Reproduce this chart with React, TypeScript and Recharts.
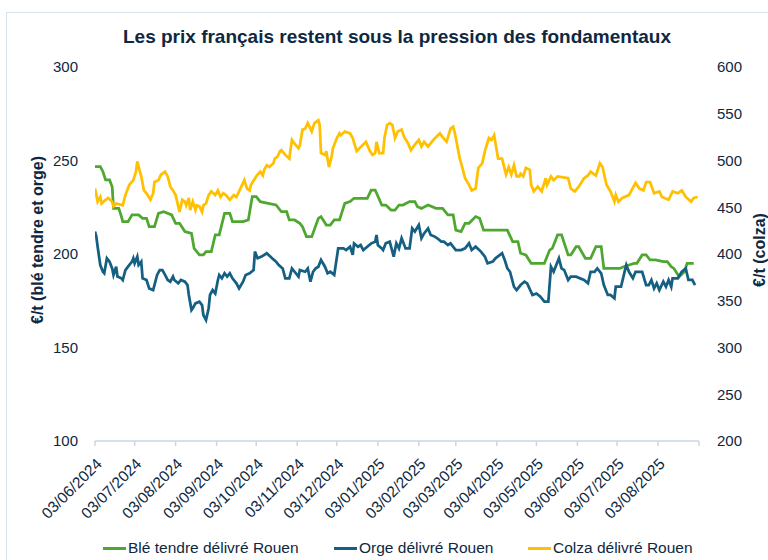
import React from 'react';
import { LineChart, Line, XAxis, YAxis } from 'recharts';

// Day offsets from 03/06/2024 of the monthly ticks
const tickDays = [0, 30, 61, 92, 122, 153, 183, 214, 245, 273, 304, 334, 365, 395, 426, 457];
const tickLabels = [
  '03/06/2024', '03/07/2024', '03/08/2024', '03/09/2024', '03/10/2024', '03/11/2024',
  '03/12/2024', '03/01/2025', '03/02/2025', '03/03/2025', '03/04/2025', '03/05/2025',
  '03/06/2025', '03/07/2025', '03/08/2025', '',
];
const leftTicks = [100, 150, 200, 250, 300];
const rightTicks = [200, 250, 300, 350, 400, 450, 500, 550, 600];

const bleDays = [0,4,6,8,11,13,14,18,20,21,25,28,33,36,39,41,45,48,52,58,61,64,68,73,75,77,79,82,84,88,91,94,98,102,104,112,116,119,122,125,131,137,141,145,147,151,155,157,160,164,169,171,175,178,181,185,189,193,196,206,209,212,217,220,224,227,230,233,238,242,244,247,252,258,263,267,271,273,277,280,283,288,291,294,312,316,320,322,326,330,340,344,346,350,353,358,360,364,366,371,375,379,383,385,397,400,404,408,410,414,417,420,424,430,433,436,438,442,446,448,453];
const bleValues = [246.7,246.7,244,239.6,239.6,236,224.4,224.4,220,217.3,217.3,220.9,220.9,219.1,219.1,214.6,214.6,221.7,222.6,220.9,216.4,216.4,212,211,203,201.3,199.5,199.5,201.3,201.3,210.2,210.2,221.7,221.7,217.3,217.3,218.2,230.7,230.7,228,227.1,226.2,222.6,222.6,218.2,218.2,216.4,214.6,209.3,209.3,219.1,220,215.5,215.5,218.2,218.2,227.1,228,229.8,229.8,234.2,234.2,226.2,226.2,223.5,223.5,226.2,226.2,228,228,225.3,224.4,226.2,224.4,224.4,220.9,220.9,212.8,212,216.4,216.4,220,219.1,212.8,212.8,206.6,206.6,200.4,199.5,195,195,202.1,203,210.2,210.2,199.5,199.5,203.9,203.9,197.7,197.7,203.9,203.9,192.3,192.3,193.2,194.1,195,195,199.5,199.5,196.8,196.8,195.9,195.9,193.2,192.3,187.9,190.5,195,195];

const orgeDays = [0,1,2,4,6,7,9,11,13,14,16,17,20,21,23,25,28,29,30,32,33,35,36,39,41,44,47,49,51,53,55,57,59,60,63,65,68,70,71,73,74,76,79,81,82,84,86,87,89,91,93,94,96,98,100,102,104,107,109,112,114,117,120,121,123,126,130,134,137,139,142,144,147,149,151,154,155,159,161,163,165,167,169,171,174,176,178,181,184,188,190,193,195,196,199,201,203,206,209,212,213,214,217,218,220,223,226,228,230,232,235,238,240,242,245,247,249,252,254,257,259,262,264,267,269,273,277,280,283,285,288,292,295,297,301,303,308,310,312,314,317,319,322,325,327,331,334,337,340,343,345,347,351,353,355,358,360,364,370,373,375,378,380,383,385,388,390,393,394,398,401,402,404,407,409,414,417,419,421,423,425,427,430,432,434,436,437,441,444,447,449,452,454];
const orgeValues = [212,209.3,203.9,194.1,190.5,189.7,197.7,195.9,192.3,188.8,193.2,187.9,187,186.1,191.4,193.2,195.9,197.7,195,198.6,194.1,195.9,187,186.1,181.6,180.7,188.8,191.4,191.4,188.8,186.1,185.2,187.9,186.1,184.3,186.1,185.2,183.4,178.1,170,171,173.6,174.5,172.7,167.4,164.7,171,178.1,180.7,178.9,186.1,188.8,187,189.7,187.9,189.7,187,184.3,181.6,185.2,188.8,189.7,191.4,201.3,197.7,198.6,200.4,197.7,195.9,194.1,192.3,187,187,192.3,190.5,187.9,191.4,190.5,192.3,185.2,190.5,192.3,193.2,196.8,193.2,189.7,190.5,188.8,203,203,202.1,203.9,199.5,205.7,203.9,204.8,202.1,203.9,205.7,206.6,210.2,204.8,203,202.1,205.7,206.6,198.6,205.7,203,208.4,203,203,213.7,212,215.5,208.4,211,213.7,210.2,209.3,208.4,206.6,206.6,204.8,205.7,202.1,202.1,203,205.7,202.1,203.9,201.3,198.6,195,195.9,197.7,200.4,196.8,192.3,190.5,182.5,180.7,183.4,185.2,184.3,178.1,178.9,177.2,174.5,174.5,193.2,190.5,197.7,192.3,191.4,186.1,187.9,187.9,186.1,184.3,190.5,190.5,192.3,189.7,183.4,178.1,178.1,176.3,182.5,182.5,191.4,194.1,190.5,187,190.5,190.5,183.4,183.4,186.1,181.6,184.3,180.7,185.2,182.5,186.1,182.5,187,187,190.5,192.3,186.1,186.1,183.4];

const colzaDays = [0,2,4,5,8,10,13,14,16,21,23,26,29,31,32,34,35,37,39,42,44,45,48,50,53,55,57,59,61,64,66,68,69,71,72,74,76,77,79,81,82,84,86,88,91,93,95,97,99,102,105,107,110,112,113,115,117,118,122,125,127,128,130,132,135,136,138,140,141,144,147,149,151,154,155,157,159,161,164,166,169,170,171,174,175,177,179,180,183,185,186,189,193,195,198,200,205,208,210,212,213,215,218,219,221,223,225,227,229,232,234,237,239,242,245,247,249,252,256,258,261,263,266,269,271,272,273,276,278,280,283,285,288,290,293,295,298,300,302,305,308,311,313,315,317,319,321,322,324,326,329,330,332,335,338,341,342,345,347,350,358,360,363,366,370,373,375,377,379,382,384,387,390,393,394,396,399,404,409,412,415,417,420,423,427,429,434,437,441,444,447,451,453,456];
const colzaValues = [470,456,461,454,458,460,456,451,454,452,463,474,479,488,499,488,483,468,465,458,465,477,479,485,488,483,472,468,463,445,458,456,452,460,447,456,447,452,451,445,452,454,463,467,463,468,461,465,463,458,463,461,470,476,479,470,468,474,483,488,484,490,495,493,497,502,504,510,511,506,502,522,518,513,516,533,534,540,531,540,543,538,508,506,510,493,504,513,524,529,527,531,529,524,510,513,520,510,506,508,520,508,508,524,538,540,538,524,531,533,525,518,511,517,522,515,520,515,522,525,529,525,520,534,536,531,524,502,492,481,474,468,470,492,497,510,524,522,527,502,502,485,493,485,495,483,483,486,483,492,490,474,467,472,467,481,474,483,479,483,481,470,467,472,481,484,488,486,484,497,493,474,467,456,463,456,460,463,476,470,468,477,477,465,467,461,458,467,465,468,461,456,460,461];

const toData = (days: number[], values: number[]) => days.map((d, i) => ({ day: d, v: values[i] }));
const bleData = toData(bleDays, bleValues);
const orgeData = toData(orgeDays, orgeValues);
const colzaData = toData(colzaDays, colzaValues);

const GREEN = '#4EA72E';
const BLUE = '#156082';
const YELLOW = '#FFC000';
const TEXT = '#0E2841';
const AXIS = '#CAD6E4';
const FONT = '"Liberation Sans", Arial, sans-serif';

const legendItems = [
  { label: 'Blé tendre délivré Rouen', color: GREEN, x: 103 },
  { label: 'Orge délivré Rouen', color: BLUE, x: 334 },
  { label: 'Colza délivré Rouen', color: YELLOW, x: 528 },
];

export default function App() {
  return (
    <div style={{ position: 'absolute', left: 0, top: 0, width: 768, height: 560, background: '#fff', fontFamily: FONT, overflow: 'hidden' }}>
      <div style={{ position: 'absolute', left: 6, top: 12, width: 770, height: 560, border: '1px solid #D9E3EF', boxSizing: 'border-box' }} />
      <div style={{ position: 'absolute', left: 0, width: 794, top: 26, textAlign: 'center', fontSize: 19, fontWeight: 'bold', color: TEXT, whiteSpace: 'nowrap' }}>
        Les prix français restent sous la pression des fondamentaux
      </div>
      <div style={{ position: 'absolute', left: 38, top: 240, transform: 'translate(-50%, -50%) rotate(-90deg)', fontSize: 16, fontWeight: 'bold', color: TEXT, whiteSpace: 'nowrap' }}>
        €/t (blé tendre et orge)
      </div>
      <div style={{ position: 'absolute', left: 760, top: 250, transform: 'translate(-50%, -50%) rotate(-90deg)', fontSize: 16, fontWeight: 'bold', color: TEXT, whiteSpace: 'nowrap' }}>
        €/t (colza)
      </div>
      <div style={{ position: 'absolute', left: 0, top: 0 }}>
        <LineChart width={768} height={560} margin={{ top: 67, right: 9, bottom: 0, left: 35 }}>
          <XAxis
            type="number"
            dataKey="day"
            domain={[0, 457]}
            ticks={tickDays}
            interval={0}
            tickFormatter={(d: number) => tickLabels[tickDays.indexOf(d)] ?? ''}
            angle={-45}
            textAnchor="end"
            height={119}
            tickSize={5}
            tickMargin={11}
            axisLine={{ stroke: AXIS, strokeWidth: 1.5 }}
            tickLine={{ stroke: AXIS, strokeWidth: 1.5 }}
            tick={{ fill: TEXT, fontSize: 15.5, fontFamily: FONT }}
            allowDataOverflow
          />
          <YAxis
            yAxisId="left"
            domain={[100, 300]}
            ticks={leftTicks}
            interval={0}
            width={60}
            axisLine={false}
            tickLine={false}
            tickSize={0}
            tickMargin={17}
            tick={{ fill: TEXT, fontSize: 15, fontFamily: FONT }}
          />
          <YAxis
            yAxisId="right"
            orientation="right"
            domain={[200, 600]}
            ticks={rightTicks}
            interval={0}
            width={60}
            axisLine={false}
            tickLine={false}
            tickSize={0}
            tickMargin={18}
            tick={{ fill: TEXT, fontSize: 15, fontFamily: FONT }}
          />
          <Line yAxisId="left" data={bleData} dataKey="v" type="linear" stroke={GREEN} strokeWidth={2.75} dot={false} isAnimationActive={false} />
          <Line yAxisId="left" data={orgeData} dataKey="v" type="linear" stroke={BLUE} strokeWidth={2.75} dot={false} isAnimationActive={false} />
          <Line yAxisId="right" data={colzaData} dataKey="v" type="linear" stroke={YELLOW} strokeWidth={2.75} dot={false} isAnimationActive={false} />
        </LineChart>
      </div>
      {legendItems.map((it) => (
        <div key={it.label} style={{ position: 'absolute', left: it.x, top: 538, height: 20, display: 'flex', alignItems: 'center', whiteSpace: 'nowrap' }}>
          <span style={{ display: 'inline-block', width: 23, height: 3, background: it.color, marginRight: 2 }} />
          <span style={{ fontSize: 15.5, color: TEXT }}>{it.label}</span>
        </div>
      ))}
    </div>
  );
}
